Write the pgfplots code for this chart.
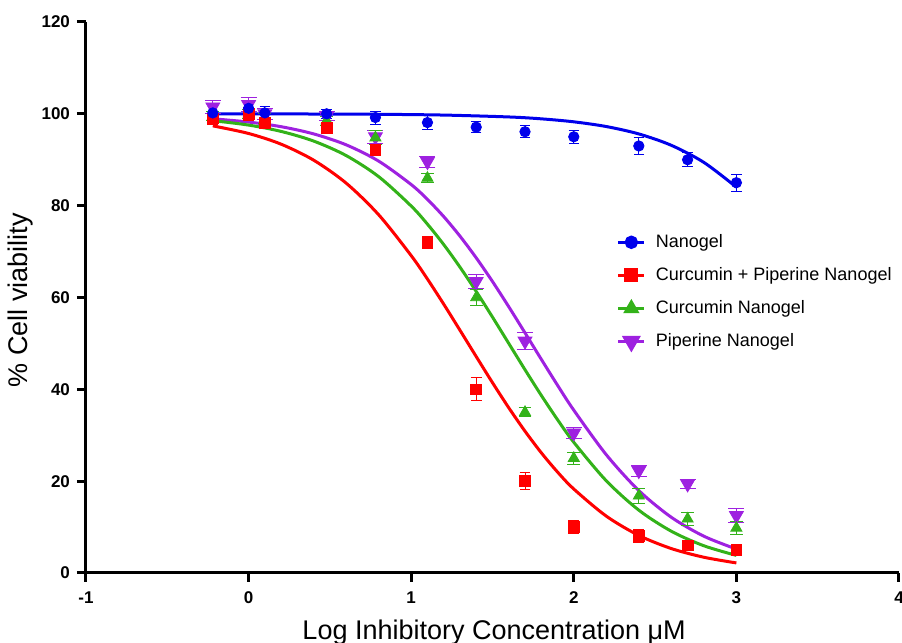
\documentclass[border=0pt]{standalone}
\usepackage{fontspec}
\setmainfont{Liberation Sans}
\usepackage{pgfplots}
\pgfplotsset{compat=1.18}
\definecolor{cblue}{rgb}{0.0,0.0,0.92}
\definecolor{cred}{rgb}{1.0,0.0,0.0}
\definecolor{cgreen}{rgb}{0.20,0.70,0.10}
\definecolor{cpurple}{rgb}{0.62,0.13,0.88}

\begin{document}
\begin{tikzpicture}
\path[use as bounding box] (0,0) rectangle (451pt,321.5pt);
\begin{axis}[
  at={(43pt,35pt)}, anchor=south west,
  width=406.5pt, height=275.5pt, scale only axis,
  xmin=-1, xmax=4, ymin=0, ymax=120,
  axis x line=bottom, axis y line=left,
  axis line style={line width=1.5pt, -},
  tick align=outside, major tick length=4.5pt,
  tick style={line width=1.5pt, black},
  xtick={-1,0,1,2,3,4}, xticklabels={-1,0,1,2,3,4},
  ytick={0,20,...,120}, yticklabels={0,20,40,60,80,100,120},
  ticklabel style={font=\fontsize{8.5}{10}\selectfont\bfseries},
  xticklabel style={yshift=-1.5pt},
  xlabel={Log Inhibitory Concentration μM},
  ylabel={\% Cell viability},
  label style={font=\fontsize{13.5}{16}\selectfont},
  xlabel style={at={(axis description cs:0.502,-0.12)}, anchor=base},
  ylabel style={at={(axis description cs:-0.081,0.495)}, anchor=center},
  legend style={at={(0.645,0.63)}, anchor=north west, draw=none, fill=none,
                font=\fontsize{9}{11}\selectfont, row sep=4.5pt, column sep=3pt},
  legend cell align=left,
  legend image code/.code={\draw[mark repeat=2,mark phase=2]
     plot coordinates {(0cm,0cm)(0.23cm,0cm)(0.46cm,0cm)};},
  error bars/y dir=both, error bars/y explicit,
  clip=false,
]
\addlegendimage{cblue, line width=1.5pt, mark=*, mark size=2.6pt}
\addlegendimage{cred, line width=1.5pt, mark=square*, mark size=2.7pt}
\addlegendimage{cgreen, line width=1.5pt, mark=triangle*, mark size=3.2pt}
\addlegendimage{cpurple, line width=1.5pt, mark=triangle*, mark size=4pt, mark options={rotate=180}}
\legend{Nanogel, Curcumin + Piperine Nanogel, Curcumin Nanogel, Piperine Nanogel}

% fitted curves
\addplot[cpurple, line width=1.5pt, smooth, no marks, forget plot] coordinates {
  (-0.22,98.92) (0,98.21) (0.2,97.20) (0.4,95.63) (0.6,93.25) (0.8,89.70)
  (1.0,84.60) (1.1,81.36) (1.2,77.62) (1.3,73.36) (1.4,68.63) (1.5,63.48)
  (1.6,57.99) (1.7,52.30) (1.8,46.55) (1.9,40.89) (2.0,35.46) (2.2,25.75)
  (2.4,17.95) (2.6,12.13) (2.8,8.01) (3.0,5.21)};
\addplot[cgreen, line width=1.5pt, smooth, no marks, forget plot] coordinates {
  (-0.22,98.51) (0,97.55) (0.2,96.17) (0.4,94.07) (0.6,90.91) (0.8,86.32)
  (1.0,79.92) (1.1,75.97) (1.2,71.53) (1.3,66.61) (1.4,61.31) (1.5,55.73)
  (1.6,50.00) (1.7,44.27) (1.8,38.69) (1.9,33.39) (2.0,28.47) (2.2,20.08)
  (2.4,13.68) (2.6,9.09) (2.8,5.93) (3.0,3.83)};
\addplot[cred, line width=1.5pt, smooth, no marks, forget plot] coordinates {
  (-0.22,97.38) (0,95.72) (0.2,93.39) (0.4,89.91) (0.6,84.91) (0.8,78.02)
  (1.0,69.12) (1.1,64.01) (1.2,58.55) (1.3,52.87) (1.4,47.13) (1.5,41.45)
  (1.6,35.99) (1.7,30.88) (1.8,26.19) (1.9,21.99) (2.0,18.29) (2.2,12.38)
  (2.4,8.18) (2.6,5.32) (2.8,3.43) (3.0,2.19)};
\addplot[cblue, line width=1.5pt, smooth, no marks, forget plot] coordinates {
  (-0.22,99.99) (0,99.98) (0.4,99.96) (0.8,99.90) (1.2,99.73) (1.6,99.32)
  (1.8,98.91) (2.0,98.26) (2.2,97.23) (2.4,95.62) (2.6,93.14) (2.8,89.42)
  (3.0,84.03)};

% measured points
\addplot[cpurple, only marks, mark=triangle*, mark size=4pt, mark options={rotate=180},
  error bars/error bar style={line width=0.5pt}, forget plot] coordinates {
  (-0.22,101.5) +- (0,1.5) (0,102) +- (0,1.5) (0.1,100) +- (0,1.2)
  (0.48,99.5) +- (0,1.0) (0.78,95) +- (0,1.5) (1.1,89.6) +- (0,1.2)
  (1.4,63.5) +- (0,1.5) (1.7,50.5) +- (0,1.8) (2.0,30.5) +- (0,1.2)
  (2.4,22.3) +- (0,1.2) (2.7,19.4) +- (0,1.0) (3.0,12.5) +- (0,1.5)};
\addplot[cgreen, only marks, mark=triangle*, mark size=3.2pt,
  error bars/error bar style={line width=0.5pt}, forget plot] coordinates {
  (-0.22,99.5) +- (0,1.0) (0,100) +- (0,1.0) (0.1,99) +- (0,1.0)
  (0.48,98.5) +- (0,1.0) (0.78,94.8) +- (0,1.5) (1.1,86) +- (0,1.0)
  (1.4,60) +- (0,1.8) (1.7,35) +- (0,1.0) (2.0,25) +- (0,1.3)
  (2.4,16.8) +- (0,1.6) (2.7,11.8) +- (0,1.4) (3.0,9.8) +- (0,1.5)};
\addplot[cred, only marks, mark=square*, mark size=2.7pt,
  error bars/error bar style={line width=0.5pt}, forget plot] coordinates {
  (-0.22,99) +- (0,1.2) (0,100) +- (0,1.5) (0.1,98) +- (0,1.0)
  (0.48,97) +- (0,1.0) (0.78,92.2) +- (0,1.2) (1.1,72.1) +- (0,1.3)
  (1.4,40) +- (0,2.5) (1.7,20) +- (0,1.8) (2.0,10) +- (0,1.4)
  (2.4,8) +- (0,1.4) (2.7,6) +- (0,1.0) (3.0,5) +- (0,1.0)};
\addplot[cblue, only marks, mark=*, mark size=2.6pt,
  error bars/error bar style={line width=0.5pt}, forget plot] coordinates {
  (-0.22,100.2) +- (0,1.5) (0,101.2) +- (0,1.6) (0.1,100.2) +- (0,1.4)
  (0.48,100) +- (0,1.0) (0.78,99.2) +- (0,1.4) (1.1,98.1) +- (0,1.5)
  (1.4,97.1) +- (0,1.2) (1.7,96.1) +- (0,1.3) (2.0,95) +- (0,1.4)
  (2.4,93) +- (0,1.8) (2.7,90) +- (0,1.5) (3.0,85) +- (0,1.8)};
\end{axis}
\end{tikzpicture}
\end{document}
